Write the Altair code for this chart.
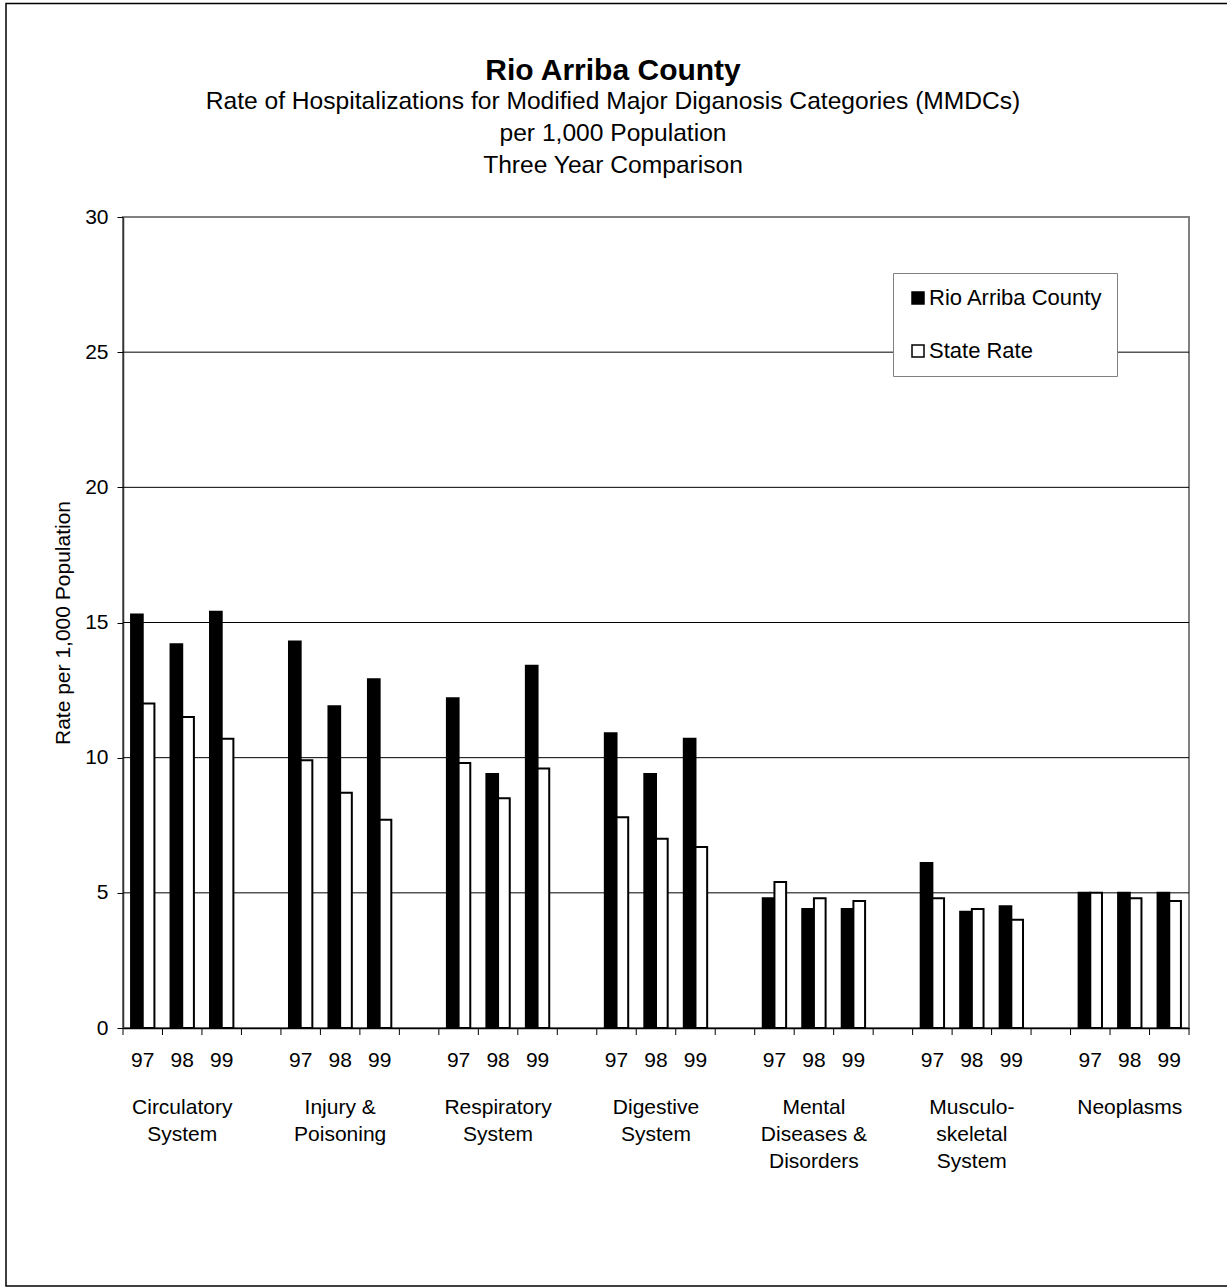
import altair as alt
import pandas as pd

FONT = "Liberation Sans"

categories = [
    "Circulatory System",
    "Injury & Poisoning",
    "Respiratory System",
    "Digestive System",
    "Mental Diseases & Disorders",
    "Musculo-skeletal System",
    "Neoplasms",
]
category_lines = [
    ["Circulatory", "System"],
    ["Injury &", "Poisoning"],
    ["Respiratory", "System"],
    ["Digestive", "System"],
    ["Mental", "Diseases &", "Disorders"],
    ["Musculo-", "skeletal", "System"],
    ["Neoplasms"],
]
years = ["97", "98", "99"]
series_names = ["Rio Arriba County", "State Rate"]

county_rates = [
    [15.3, 14.2, 15.4],
    [14.3, 11.9, 12.9],
    [12.2, 9.4, 13.4],
    [10.9, 9.4, 10.7],
    [4.8, 4.4, 4.4],
    [6.1, 4.3, 4.5],
    [5.0, 5.0, 5.0],
]
state_rates = [
    [12.0, 11.5, 10.7],
    [9.9, 8.7, 7.7],
    [9.8, 8.5, 9.6],
    [7.8, 7.0, 6.7],
    [5.4, 4.8, 4.7],
    [4.8, 4.4, 4.0],
    [5.0, 4.8, 4.7],
]
y_ticks = [0, 5, 10, 15, 20, 25, 30]
gridlines = [5, 10, 15, 20, 25]

# One x slot per category/year, with an empty slot between categories
slot_domain = []
bar_rows = []
year_rows = []
label_rows = []
for gi, cat in enumerate(categories):
    for yi, yr in enumerate(years):
        key = f"{gi}-{yr}"
        slot_domain.append(key)
        year_rows.append({"slot": key, "year": yr})
        bar_rows.append({"slot": key, "series": series_names[0], "rate": county_rates[gi][yi]})
        bar_rows.append({"slot": key, "series": series_names[1], "rate": state_rates[gi][yi]})
    label_rows.append({"slot": f"{gi}-98", "label": "\n".join(category_lines[gi])})
    if gi < len(categories) - 1:
        slot_domain.append(f"gap-{gi}")

bars_df = pd.DataFrame(bar_rows)
years_df = pd.DataFrame(year_rows)
labels_df = pd.DataFrame(label_rows)
slots_df = pd.DataFrame({"slot": slot_domain})
last_slot_df = pd.DataFrame({"slot": slot_domain[-1:]})
grid_df = pd.DataFrame({"rate": gridlines})

x_scale = alt.Scale(domain=slot_domain, paddingInner=0, paddingOuter=0)
y_scale = alt.Scale(domain=[0, 30], nice=False)

x_axis = alt.Axis(
    title=None, labels=False, ticks=False, grid=False,
    domainColor="black", domainWidth=1.5,
)


def x_slot(band=0.5):
    return alt.X("slot:N", scale=x_scale, sort=slot_domain, axis=x_axis, bandPosition=band)


grid = alt.Chart(grid_df).mark_rule(color="black", strokeWidth=1).encode(
    y=alt.Y("rate:Q", scale=y_scale),
)

bars = alt.Chart(bars_df).mark_bar(stroke="black", strokeWidth=2).encode(
    x=alt.X("slot:N", scale=x_scale, sort=slot_domain, axis=x_axis),
    xOffset=alt.XOffset(
        "series:N",
        sort=series_names,
        scale=alt.Scale(domain=series_names, paddingInner=0, paddingOuter=0.69),
    ),
    y=alt.Y(
        "rate:Q",
        scale=y_scale,
        axis=alt.Axis(
            values=y_ticks,
            title="Rate per 1,000 Population",
            titleFont=FONT,
            titleFontSize=21,
            titleFontWeight="normal",
            titleColor="black",
            titlePadding=11,
            labelFont=FONT,
            labelFontSize=21,
            labelColor="black",
            labelPadding=9,
            tickSize=6,
            tickColor="black",
            domainColor="#333333",
            domainWidth=1.5,
            grid=False,
        ),
    ),
    color=alt.Color(
        "series:N",
        sort=series_names,
        scale=alt.Scale(domain=series_names, range=["black", "white"]),
        legend=alt.Legend(
            title=None,
            orient="none",
            legendX=770,
            legendY=56,
            fillColor="white",
            strokeColor="#808080",
            padding=14,
            rowPadding=31,
            symbolType="square",
            symbolSize=144,
            symbolStrokeColor="black",
            symbolStrokeWidth=1.5,
            labelFont=FONT,
            labelFontSize=22,
            labelColor="black",
            labelOffset=0,
            labelLimit=400,
        ),
    ),
)

# Tick marks on the category axis, at every slot boundary
slot_ticks = alt.Chart(slots_df).mark_rule(color="black", strokeWidth=1).encode(
    x=x_slot(0), y=alt.value(811), y2=alt.value(818)
)
end_tick = alt.Chart(last_slot_df).mark_rule(color="black", strokeWidth=1).encode(
    x=x_slot(1), y=alt.value(811), y2=alt.value(818)
)

year_labels = alt.Chart(years_df).mark_text(
    font=FONT, fontSize=21, baseline="top", color="black"
).encode(
    x=x_slot(),
    y=alt.value(833),
    text="year:N",
)

group_labels = alt.Chart(labels_df).mark_text(
    font=FONT, fontSize=21, lineBreak="\n", lineHeight=27, baseline="top", color="black"
).encode(
    x=x_slot(),
    y=alt.value(880),
    text="label:N",
)

# Thin border around the whole figure
frame = alt.Chart(pd.DataFrame({"v": [0]})).mark_rect(
    fill="transparent", stroke="black", strokeWidth=1.5
).encode(
    x=alt.value(-117), x2=alt.value(1106), y=alt.value(-213.5), y2=alt.value(1069)
)

chart = alt.layer(
    grid, bars, slot_ticks, end_tick, year_labels, group_labels, frame
).properties(
    width=1066,
    height=811,
    padding={"left": 123, "top": 217, "right": 38, "bottom": 259},
    autosize=alt.AutoSizeParams(type="none"),
    title=alt.TitleParams(
        text="Rio Arriba County",
        subtitle=[
            "Rate of Hospitalizations for Modified Major Diganosis Categories (MMDCs)",
            "per 1,000 Population",
            "Three Year Comparison",
        ],
        font=FONT,
        fontSize=30,
        fontWeight="bold",
        color="black",
        subtitleFont=FONT,
        subtitleFontSize=24.6,
        subtitleColor="black",
        subtitleLineHeight=32,
        subtitlePadding=4,
        anchor="middle",
        dx=-43,
        dy=203,
        offset=28,
    ),
).configure(background="white").configure_view(stroke="#808080", strokeWidth=2)

chart.save("out.html", embed_options={"renderer": "svg", "actions": False})
